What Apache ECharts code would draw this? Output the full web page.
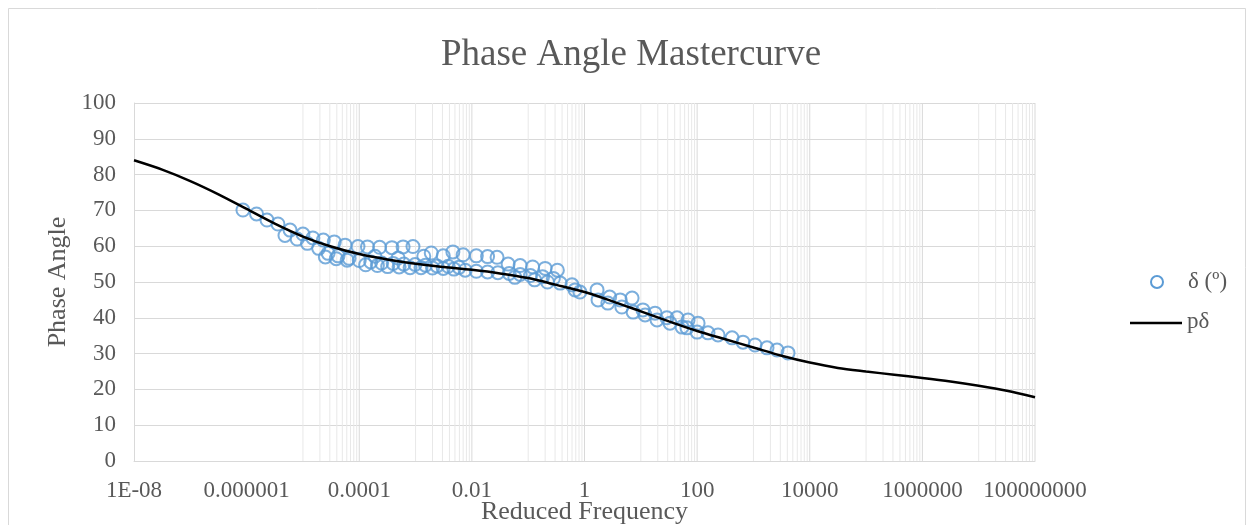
<!DOCTYPE html>
<html><head><meta charset="utf-8">
<script src="https://cdn.jsdelivr.net/npm/echarts@6/dist/echarts.min.js"></script>
<style>html,body{margin:0;padding:0;background:#fff}#c{width:1253px;height:525px}</style>
</head><body><div id="c"></div>
<script>
// Measured phase angle δ (º) vs reduced frequency
const measuredFreq = [
  8.6e-7, 1.5e-6, 2.3e-6, 3.6e-6, 5.9e-6, 1.0e-5, 1.5e-5, 2.3e-5, 3.6e-5, 5.6e-5,
  4.8e-6, 7.9e-6, 1.2e-5, 1.9e-5, 2.8e-5, 4.2e-5, 6.6e-5, 2.5e-5, 3.9e-5, 6.1e-5,
  9.5e-5, 1.4e-4, 2.3e-4, 3.8e-4, 6.0e-4, 9.0e-4, 1.4e-3, 1.9e-3, 3.1e-3, 4.6e-3,
  1.0e-4, 1.6e-4, 2.5e-4, 4.0e-4, 6.2e-4, 9.8e-4, 1.5e-3, 2.4e-3, 3.8e-3, 5.9e-3,
  1.3e-4, 2.1e-4, 3.2e-4, 5.1e-4, 8.0e-4, 1.25e-3, 2.0e-3, 3.1e-3, 4.8e-3, 7.6e-3,
  1.9e-4, 4.9e-4,
  7.0e-3, 1.2e-2, 1.9e-2, 2.8e-2, 4.4e-2, 7.2e-2, 0.12, 0.20, 0.33,
  1.2e-2, 1.9e-2, 2.9e-2, 4.6e-2, 7.2e-2, 0.11, 0.18, 0.28, 5.8e-2, 0.13,
  0.22, 0.37, 0.60, 0.68,
  0.83, 1.67, 1.74, 2.6, 2.8, 4.3, 4.6, 7.0, 7.3, 10.9, 11.9, 17.9, 19.4, 29, 33, 44, 54, 66,
  69, 104, 100, 156, 235, 417, 653, 1067, 1742, 2624, 4114
];
const measuredPhase = [
  70.1, 69.0, 67.3, 66.2, 64.5, 63.4, 62.3, 61.7, 61.2, 60.3,
  63.0, 62.0, 60.8, 59.4, 58.0, 57.3, 56.6, 57.0, 56.5, 56.1,
  59.9, 59.8, 59.7, 59.6, 59.8, 59.9, 57.2, 58.1, 57.3, 58.4,
  56.0, 55.6, 55.3, 55.2, 55.0, 54.9, 54.7, 54.5, 54.4, 54.1,
  54.8, 54.6, 54.3, 54.2, 54.0, 54.0, 53.9, 53.8, 53.6, 53.3,
  57.2, 56.7,
  57.6, 57.3, 57.1, 56.9, 55.0, 54.6, 54.2, 53.8, 53.3,
  53.0, 52.8, 52.6, 52.4, 52.1, 51.8, 51.5, 51.0, 51.3, 50.6,
  50.0, 49.7, 49.2, 47.8,
  47.2, 47.8, 45.0, 44.1, 45.8, 45.0, 43.0, 45.5, 41.6, 42.2, 40.8, 41.3, 39.4, 40.0, 38.5, 40.0, 37.4, 37.2,
  39.4, 38.5, 36.0, 35.8, 35.2, 34.4, 33.2, 32.4, 31.6, 31.0, 30.2
];
// Model curve pδ
const modelFreq = [
  1e-8, 3.16e-8, 1e-7, 3.16e-7, 1e-6, 3.16e-6, 1e-5, 3.16e-5, 1e-4, 3.16e-4,
  1e-3, 3.16e-3, 1e-2, 3.16e-2, 0.1, 0.316, 1, 3.16, 10, 31.6,
  100, 316, 1e3, 3.16e3, 1e4, 3.16e4, 1e5, 3.16e5, 1e6, 3.16e6,
  1e7, 3.16e7, 1e8
];
const modelPhase = [
  84.0, 81.4, 78.2, 74.5, 70.4, 66.3, 62.7, 59.9, 57.8, 56.3,
  55.1, 54.2, 53.4, 52.4, 51.1, 49.2, 47.2, 44.6, 41.8, 39.0,
  36.3, 34.0, 31.7, 29.4, 27.5, 26.0, 25.0, 24.1, 23.2, 22.2,
  21.0, 19.6, 17.8
];
const xTickLabels = ['1E-08','0.000001','0.0001','0.01','1','100','10000','1000000','100000000'];
const legendNames = ['δ (º)', 'pδ'];
const majorGridFreq = [1e-4, 1e-2, 1, 1e2, 1e4, 1e6, 1e8];
const minorDecades = [-5, -3, -1, 1, 3, 5, 7];
const minorGridFreq = [];
minorDecades.forEach(function (k) {
  for (let m = 1; m <= 9; m++) minorGridFreq.push(m * Math.pow(10, k));
});
function gridPath(list) {
  const out = [];
  list.forEach(function (f) { out.push([f, 0], [f, 100], [f, '-']); });
  return out;
}

const FONT = "'Liberation Serif','Times New Roman',serif";
const TXT = '#595959';
const chart = echarts.init(document.getElementById('c'));
chart.setOption({
  animation: false,
  backgroundColor: '#fff',
  title: {
    text: 'Phase Angle Mastercurve', left: 626, top: 32, textAlign: 'center',
    textStyle: {fontFamily: FONT, fontSize: 37, fontWeight: 'normal', color: TXT}
  },
  graphic: [
    {type: 'rect', silent: true, z: -10,
     shape: {x: 8.5, y: 8.5, width: 1237, height: 600},
     style: {fill: 'none', stroke: '#D9D9D9', lineWidth: 1}},
    {type: 'circle', silent: true, z: 10,
     shape: {cx: 1157, cy: 282, r: 6},
     style: {fill: 'none', stroke: '#5B9BD5', lineWidth: 2}},
    {type: 'text', silent: true, z: 10, x: 1188, y: 282,
     style: {text: legendNames[0], fontFamily: FONT, fontSize: 23, fill: TXT, verticalAlign: 'middle'}},
    {type: 'line', silent: true, z: 10,
     shape: {x1: 1130, y1: 323, x2: 1182, y2: 323},
     style: {stroke: '#000', lineWidth: 2.5}},
    {type: 'text', silent: true, z: 10, x: 1187, y: 322,
     style: {text: legendNames[1], fontFamily: FONT, fontSize: 23, fill: TXT, verticalAlign: 'middle'}}
  ],
  grid: {left: 134, right: 218, top: 103, bottom: 64, containLabel: false, outerBoundsMode: 'none'},
  xAxis: {
    type: 'log', logBase: 10, min: 1e-8, max: 1e8, interval: 2,
    name: 'Reduced Frequency', nameLocation: 'middle', nameGap: 38, nameMoveOverlap: false,
    nameTextStyle: {fontFamily: FONT, fontSize: 26, color: TXT},
    axisLine: {show: true, lineStyle: {color: '#D9D9D9', width: 1}},
    axisTick: {show: false},
    splitLine: {show: false},
    axisLabel: {
      fontFamily: FONT, fontSize: 23, color: TXT, margin: 18,
      formatter: function (v) {
        const i = Math.round((Math.log10(v) + 8) / 2);
        return xTickLabels[i] || '';
      }
    }
  },
  yAxis: {
    type: 'value', min: 0, max: 100, interval: 10,
    name: 'Phase Angle', nameLocation: 'middle', nameGap: 63, nameMoveOverlap: false,
    nameTextStyle: {fontFamily: FONT, fontSize: 26, color: TXT},
    axisLine: {show: true, lineStyle: {color: '#D9D9D9', width: 1}},
    axisTick: {show: false},
    splitLine: {show: true, lineStyle: {color: '#D9D9D9', width: 1}},
    axisLabel: {fontFamily: FONT, fontSize: 23, color: TXT, margin: 18}
  },
  series: [
    {
      name: 'minorGrid', type: 'line', z: 1, silent: true, showSymbol: false, symbol: 'none',
      connectNulls: false, lineStyle: {color: '#E8E8E8', width: 1},
      data: gridPath(minorGridFreq)
    },
    {
      name: 'majorGrid', type: 'line', z: 1, silent: true, showSymbol: false, symbol: 'none',
      connectNulls: false, lineStyle: {color: '#D9D9D9', width: 1},
      data: gridPath(majorGridFreq)
    },
    {
      name: legendNames[0], type: 'scatter', z: 3, symbol: 'circle', symbolSize: 13,
      itemStyle: {color: 'rgba(91,155,213,0)', borderColor: '#5B9BD5', borderWidth: 2},
      data: measuredFreq.map(function (f, i) { return [f, measuredPhase[i]]; })
    },
    {
      name: legendNames[1], type: 'line', z: 4, smooth: 0.3, showSymbol: false, symbol: 'none',
      lineStyle: {color: '#000', width: 2.5},
      itemStyle: {color: '#000'},
      data: modelFreq.map(function (f, i) { return [f, modelPhase[i]]; })
    }
  ]
});
</script></body></html>
